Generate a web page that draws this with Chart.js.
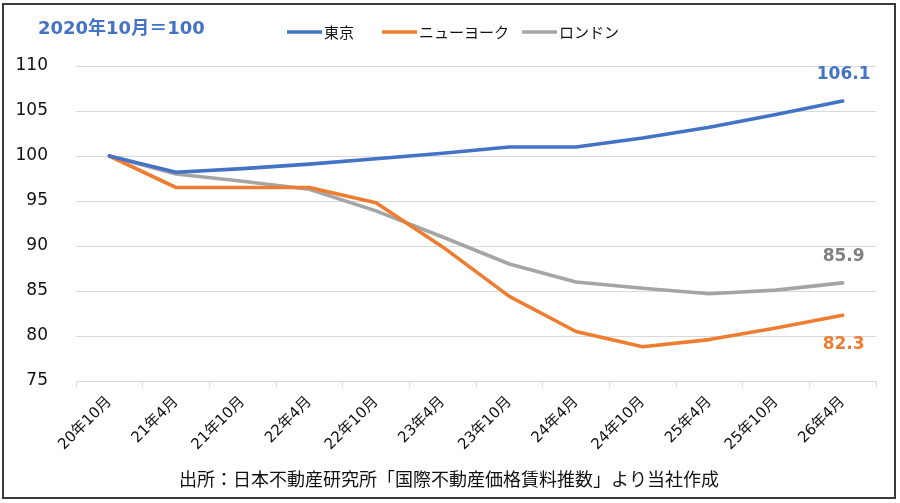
<!DOCTYPE html>
<html>
<head>
<meta charset="utf-8">
<script src="https://cdn.jsdelivr.net/npm/chart.js@4/dist/chart.umd.min.js"></script>
<style>
  html, body { margin: 0; padding: 0; background: #fff; }
  #wrap { width: 900px; height: 503px; position: relative; }
</style>
</head>
<body>
<div id="wrap"><canvas id="c" width="900" height="503"></canvas></div>
<script>
const categories = ["20年10月","21年4月","21年10月","22年4月","22年10月","23年4月","23年10月","24年4月","24年10月","25年4月","25年10月","26年4月"];
const tokyo   = [100, 98.2, 98.6, 99.1, 99.7, 100.3, 101.0, 101.0, 102.0, 103.2, 104.6, 106.1];
const newYork = [100, 96.5, 96.5, 96.5, 94.8, 89.9, 84.4, 80.5, 78.8, 79.6, 80.9, 82.3];
const london  = [100, 98.0, 97.2, 96.3, 93.9, 91.0, 88.0, 86.0, 85.3, 84.7, 85.1, 85.9];
const seriesNames = ["東京", "ニューヨーク", "ロンドン"];
const yTicks = [75, 80, 85, 90, 95, 100, 105, 110];
const baseNote = "2020年10月＝100";
const sourceNote = "出所：日本不動産研究所「国際不動産価格賃料推数」より当社作成";

const BLUE = "#4472C4", ORANGE = "#ED7D31", GRAY = "#A5A5A5";
const NUMFONT = "'DejaVu Sans', 'Noto Sans CJK JP', sans-serif";
const CJKFONT = "'Noto Sans CJK JP', 'DejaVu Sans', sans-serif";
const legendX = [287, 382, 522];

const decorPlugin = {
  id: "decor",
  beforeDraw(chart) {
    const ctx = chart.ctx;
    ctx.save();
    ctx.fillStyle = "#fff";
    ctx.fillRect(0, 0, chart.width, chart.height);
    ctx.restore();
  },
  afterDraw(chart) {
    const ctx = chart.ctx;
    ctx.save();
    ctx.strokeStyle = "#3a3a3a";
    ctx.lineWidth = 2;
    ctx.strokeRect(3, 4, 892, 494);
    ctx.fillStyle = BLUE;
    ctx.font = "bold 18px " + NUMFONT;
    ctx.textBaseline = "middle";
    ctx.textAlign = "left";
    ctx.fillText(baseNote, 38, 29);
    ctx.font = "15px " + CJKFONT;
    chart.data.datasets.forEach((ds, i) => {
      const x = legendX[i];
      ctx.strokeStyle = ds.borderColor;
      ctx.lineWidth = 3.5;
      ctx.beginPath();
      ctx.moveTo(x, 32);
      ctx.lineTo(x + 35, 32);
      ctx.stroke();
      ctx.fillStyle = "#111";
      ctx.fillText(ds.label, x + 37, 32);
    });
    ctx.font = "18px " + CJKFONT;
    ctx.textAlign = "center";
    ctx.fillStyle = "#111";
    ctx.fillText(sourceNote, 449, 479);
    ctx.restore();
  },
  afterDatasetsDraw(chart) {
    const ctx = chart.ctx;
    ctx.save();
    ctx.font = "bold 17px " + NUMFONT;
    ctx.textAlign = "center";
    ctx.textBaseline = "middle";
    chart.data.datasets.forEach((ds, i) => {
      const meta = chart.getDatasetMeta(i);
      const last = meta.data[meta.data.length - 1];
      const v = ds.data[ds.data.length - 1];
      ctx.fillStyle = ds.labelColor;
      ctx.fillText(v.toFixed(1), last.x + 1, last.y + ds.labelOffset);
    });
    ctx.restore();
  }
};

new Chart(document.getElementById("c"), {
  type: "line",
  data: {
    labels: categories,
    datasets: [
      { label: seriesNames[0], data: tokyo, borderColor: BLUE, backgroundColor: BLUE, labelColor: BLUE, labelOffset: -27 },
      { label: seriesNames[1], data: newYork, borderColor: ORANGE, backgroundColor: ORANGE, labelColor: ORANGE, labelOffset: 29 },
      { label: seriesNames[2], data: london, borderColor: GRAY, backgroundColor: GRAY, labelColor: "#808080", labelOffset: -26 }
    ].map(d => Object.assign(d, { borderWidth: 3.6, pointRadius: 0, tension: 0, borderJoinStyle: "round", borderCapStyle: "round" }))
  },
  options: {
    responsive: false,
    animation: false,
    devicePixelRatio: 1,
    layout: { padding: { left: 0, right: 24, top: 66, bottom: 0 } },
    plugins: { legend: { display: false }, tooltip: { enabled: false }, title: { display: false } },
    scales: {
      x: {
        offset: true,
        grid: { display: true, drawOnChartArea: false, drawTicks: true, tickLength: 6, color: "#d9d9d9", offset: true },
        border: { display: true, color: "#d9d9d9", width: 1 },
        ticks: {
          autoSkip: false, maxRotation: 45, minRotation: 45, padding: 6,
          color: "#111", font: { family: NUMFONT, size: 15 }
        },
        afterFit(s) { s.height = 122; }
      },
      y: {
        min: yTicks[0], max: yTicks[yTicks.length - 1],
        afterBuildTicks(s) { s.ticks = yTicks.map(v => ({ value: v })); },
        grid: { color: "#d9d9d9", drawTicks: false, lineWidth: 1 },
        border: { display: false },
        ticks: { padding: 28, color: "#111", font: { family: NUMFONT, size: 17 } },
        afterFit(s) { s.width = 76; }
      }
    }
  },
  plugins: [decorPlugin]
});
</script>
</body>
</html>
